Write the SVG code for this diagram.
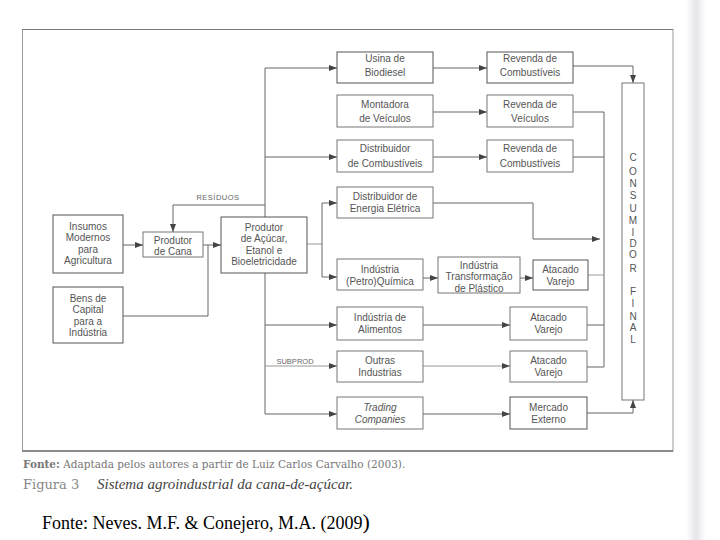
<svg xmlns="http://www.w3.org/2000/svg" width="720" height="540" viewBox="0 0 720 540">
<defs>
<marker id="ah" viewBox="0 0 8 6" refX="8" refY="3" markerWidth="8" markerHeight="6" markerUnits="userSpaceOnUse" orient="auto">
<path d="M0,0 L8,3 L0,6 z" fill="#444"/>
</marker>
<linearGradient id="band" x1="0" x2="1" y1="0" y2="0">
<stop offset="0" stop-color="#fff"/>
<stop offset="0.5" stop-color="#e6e6ea"/>
<stop offset="1" stop-color="#fff"/>
</linearGradient>
</defs>
<style>
.box{fill:#fff;stroke:#777;stroke-width:1}
.dk{stroke:#555}
.t{font-family:"Liberation Sans","Open Sans",sans-serif;font-size:10px;fill:#555;text-anchor:middle}
.ln{fill:none;stroke:#666;stroke-width:1}
.lt{fill:none;stroke:#999;stroke-width:1}
.sm{font-family:"Liberation Sans","Open Sans",sans-serif;font-size:7.5px;fill:#666;text-anchor:middle}
.cf{font-family:"Liberation Sans","Open Sans",sans-serif;font-size:10px;fill:#555;text-anchor:middle}
</style>
<rect width="720" height="540" fill="#fff"/>
<rect x="686" y="0" width="20" height="540" fill="url(#band)"/>
<rect x="22.5" y="29.5" width="650.5" height="421.5" fill="none" stroke="#999" stroke-width="1"/>
<line x1="22" y1="29.5" x2="673" y2="29.5" stroke="#777" stroke-width="1.2"/>
<line x1="22" y1="451" x2="673" y2="451" stroke="#777" stroke-width="1.4"/>

<g id="connectors">
<line class="ln" x1="123" y1="245" x2="143" y2="245" marker-end="url(#ah)"/>
<polyline class="ln" points="123,316 208,316 208,245"/>
<line class="ln" x1="203" y1="245" x2="221" y2="245" marker-end="url(#ah)"/>
<polyline class="ln" points="265,205 173,205 173,232" marker-end="url(#ah)"/>
<line class="ln" x1="265" y1="68" x2="265" y2="414"/>
<line class="ln" x1="265" y1="68" x2="337" y2="68" marker-end="url(#ah)"/>
<line class="ln" x1="265" y1="157" x2="337" y2="157" marker-end="url(#ah)"/>
<line class="ln" x1="265" y1="325" x2="337" y2="325" marker-end="url(#ah)"/>
<line class="lt" x1="265" y1="366" x2="337" y2="366" marker-end="url(#ah)"/>
<line class="ln" x1="265" y1="414" x2="337" y2="414" marker-end="url(#ah)"/>
<polyline class="lt" points="307,244 322,244"/>
<line class="ln" x1="322" y1="203" x2="322" y2="277"/>
<line class="ln" x1="322" y1="203" x2="337" y2="203" marker-end="url(#ah)"/>
<line class="ln" x1="322" y1="277" x2="337" y2="277" marker-end="url(#ah)"/>
<line class="ln" x1="433" y1="68" x2="487" y2="68" marker-end="url(#ah)"/>
<line class="ln" x1="433" y1="112" x2="487" y2="112" marker-end="url(#ah)"/>
<line class="ln" x1="433" y1="157" x2="487" y2="157" marker-end="url(#ah)"/>
<line class="ln" x1="423" y1="278" x2="438" y2="278" marker-end="url(#ah)"/>
<line class="ln" x1="520" y1="278" x2="533" y2="278" marker-end="url(#ah)"/>
<line class="ln" x1="423" y1="325" x2="510" y2="325" marker-end="url(#ah)"/>
<line class="lt" x1="423" y1="366" x2="510" y2="366" marker-end="url(#ah)"/>
<line class="ln" x1="423" y1="414" x2="510" y2="414" marker-end="url(#ah)"/>
<polyline class="ln" points="433,203 533,203 533,239 600,239" marker-end="url(#ah)"/>
<polyline class="ln" points="573,66 633,66 633,83" marker-end="url(#ah)"/>
<line class="ln" x1="604" y1="112" x2="604" y2="367"/>
<line class="ln" x1="573" y1="112" x2="604" y2="112"/>
<line class="ln" x1="573" y1="157" x2="604" y2="157"/>
<line class="lt" x1="588" y1="275" x2="604" y2="275"/>
<line class="ln" x1="587" y1="325" x2="604" y2="325"/>
<line class="ln" x1="587" y1="367" x2="604" y2="367"/>
<polyline class="ln" points="587,413 633,413 633,400" marker-end="url(#ah)"/>
<text class="sm" x="218" y="200" letter-spacing="0.5">RESÍDUOS</text>
<text class="sm" x="295" y="364">SUBPROD</text>
</g>

<g id="insumos"><rect class="box dk" x="53" y="215" width="70" height="58"/>
<text class="t" x="88" y="229.5">Insumos</text><text class="t" x="88" y="241">Modernos</text><text class="t" x="88" y="252.5">para</text><text class="t" x="88" y="264">Agricultura</text></g>
<g id="bens"><rect class="box dk" x="53" y="287" width="70" height="56"/>
<text class="t" x="88" y="301.5">Bens de</text><text class="t" x="88" y="313">Capital</text><text class="t" x="88" y="324.5">para a</text><text class="t" x="88" y="336">Indústria</text></g>
<g id="produtor-cana"><rect class="box" x="143" y="232" width="60" height="25"/>
<text class="t" x="173" y="243.5">Produtor</text><text class="t" x="173" y="255">de Cana</text></g>
<g id="produtor-acucar"><rect class="box dk" x="221" y="217" width="86" height="56"/>
<text class="t" x="264" y="230.5">Produtor</text><text class="t" x="264" y="242">de Açúcar,</text><text class="t" x="264" y="253.5">Etanol e</text><text class="t" x="264" y="265">Bioeletricidade</text></g>

<g id="usina"><rect class="box dk" x="337" y="52" width="96" height="31"/>
<text class="t" x="385" y="61.5">Usina de</text><text class="t" x="385" y="76">Biodiesel</text></g>
<g id="revenda-comb1"><rect class="box dk" x="487" y="52" width="86" height="31"/>
<text class="t" x="530" y="61.5">Revenda de</text><text class="t" x="530" y="76">Combustíveis</text></g>
<g id="montadora"><rect class="box" x="337" y="95" width="96" height="32"/>
<text class="t" x="385" y="107.5">Montadora</text><text class="t" x="385" y="122">de Veículos</text></g>
<g id="revenda-veic"><rect class="box" x="487" y="95" width="86" height="32"/>
<text class="t" x="530" y="107.5">Revenda de</text><text class="t" x="530" y="122">Veículos</text></g>
<g id="distribuidor-comb"><rect class="box" x="337" y="140" width="96" height="32"/>
<text class="t" x="385" y="152">Distribuidor</text><text class="t" x="385" y="166.5">de Combustíveis</text></g>
<g id="revenda-comb2"><rect class="box" x="487" y="140" width="86" height="32"/>
<text class="t" x="530" y="152">Revenda de</text><text class="t" x="530" y="166.5">Combustíveis</text></g>
<g id="distribuidor-energia"><rect class="box" x="337" y="187" width="96" height="31"/>
<text class="t" x="385" y="200">Distribuidor de</text><text class="t" x="385" y="212">Energia Elétrica</text></g>
<g id="petroquimica"><rect class="box" x="337" y="259" width="86" height="31"/>
<text class="t" x="380" y="273">Indústria</text><text class="t" x="380" y="285">(Petro)Química</text></g>
<g id="transformacao"><rect class="box" x="438" y="257" width="82" height="36"/>
<text class="t" x="479" y="268.5">Indústria</text><text class="t" x="479" y="280">Transformação</text><text class="t" x="479" y="291.5">de Plástico</text></g>
<g id="atacado1"><rect class="box dk" x="533" y="260" width="55" height="30"/>
<text class="t" x="560.5" y="273">Atacado</text><text class="t" x="560.5" y="285">Varejo</text></g>
<g id="alimentos"><rect class="box" x="337" y="307" width="86" height="33"/>
<text class="t" x="380" y="321">Indústria de</text><text class="t" x="380" y="333">Alimentos</text></g>
<g id="atacado2"><rect class="box" x="510" y="307" width="77" height="33"/>
<text class="t" x="548.5" y="321">Atacado</text><text class="t" x="548.5" y="333">Varejo</text></g>
<g id="outras"><rect class="box" x="337" y="351" width="86" height="31"/>
<text class="t" x="380" y="364">Outras</text><text class="t" x="380" y="376">Industrias</text></g>
<g id="atacado3"><rect class="box" x="510" y="351" width="77" height="31"/>
<text class="t" x="548.5" y="364">Atacado</text><text class="t" x="548.5" y="376">Varejo</text></g>
<g id="trading"><rect class="box" x="337" y="397" width="86" height="32"/>
<text class="t" x="380" y="410.5" font-style="italic">Trading</text><text class="t" x="380" y="422.5" font-style="italic">Companies</text></g>
<g id="mercado"><rect class="box dk" x="510" y="397" width="77" height="32"/>
<text class="t" x="548.5" y="410.5">Mercado</text><text class="t" x="548.5" y="422.5">Externo</text></g>

<g id="consumidor"><rect class="box" x="622" y="83" width="22" height="317"/>
<text class="cf" x="633" y="160.5">C</text><text class="cf" x="633" y="175">O</text><text class="cf" x="633" y="187">N</text><text class="cf" x="633" y="199">S</text><text class="cf" x="633" y="212">U</text><text class="cf" x="633" y="224">M</text><text class="cf" x="633" y="236">I</text><text class="cf" x="633" y="247">D</text><text class="cf" x="633" y="258">O</text><text class="cf" x="633" y="272">R</text><text class="cf" x="633" y="295">F</text><text class="cf" x="633" y="307">I</text><text class="cf" x="633" y="320">N</text><text class="cf" x="633" y="331">A</text><text class="cf" x="633" y="343">L</text></g>

<text x="23" y="468" font-family="'DejaVu Serif',serif" font-size="10.5" fill="#777"><tspan font-weight="bold">Fonte:</tspan> Adaptada pelos autores a partir de Luiz Carlos Carvalho (2003).</text>
<text x="23" y="489" font-family="'DejaVu Serif',serif" font-size="13" fill="#888">Figura 3</text>
<text x="97" y="489" font-family="'Liberation Serif',serif" font-size="15" font-style="italic" fill="#444">Sistema agroindustrial da cana-de-açúcar.</text>
<text x="42" y="529" font-family="'Liberation Serif',serif" font-size="18" fill="#000">Fonte: Neves. M.F. &amp; Conejero, M.A. (2009<tspan font-size="22">)</tspan></text>
</svg>
